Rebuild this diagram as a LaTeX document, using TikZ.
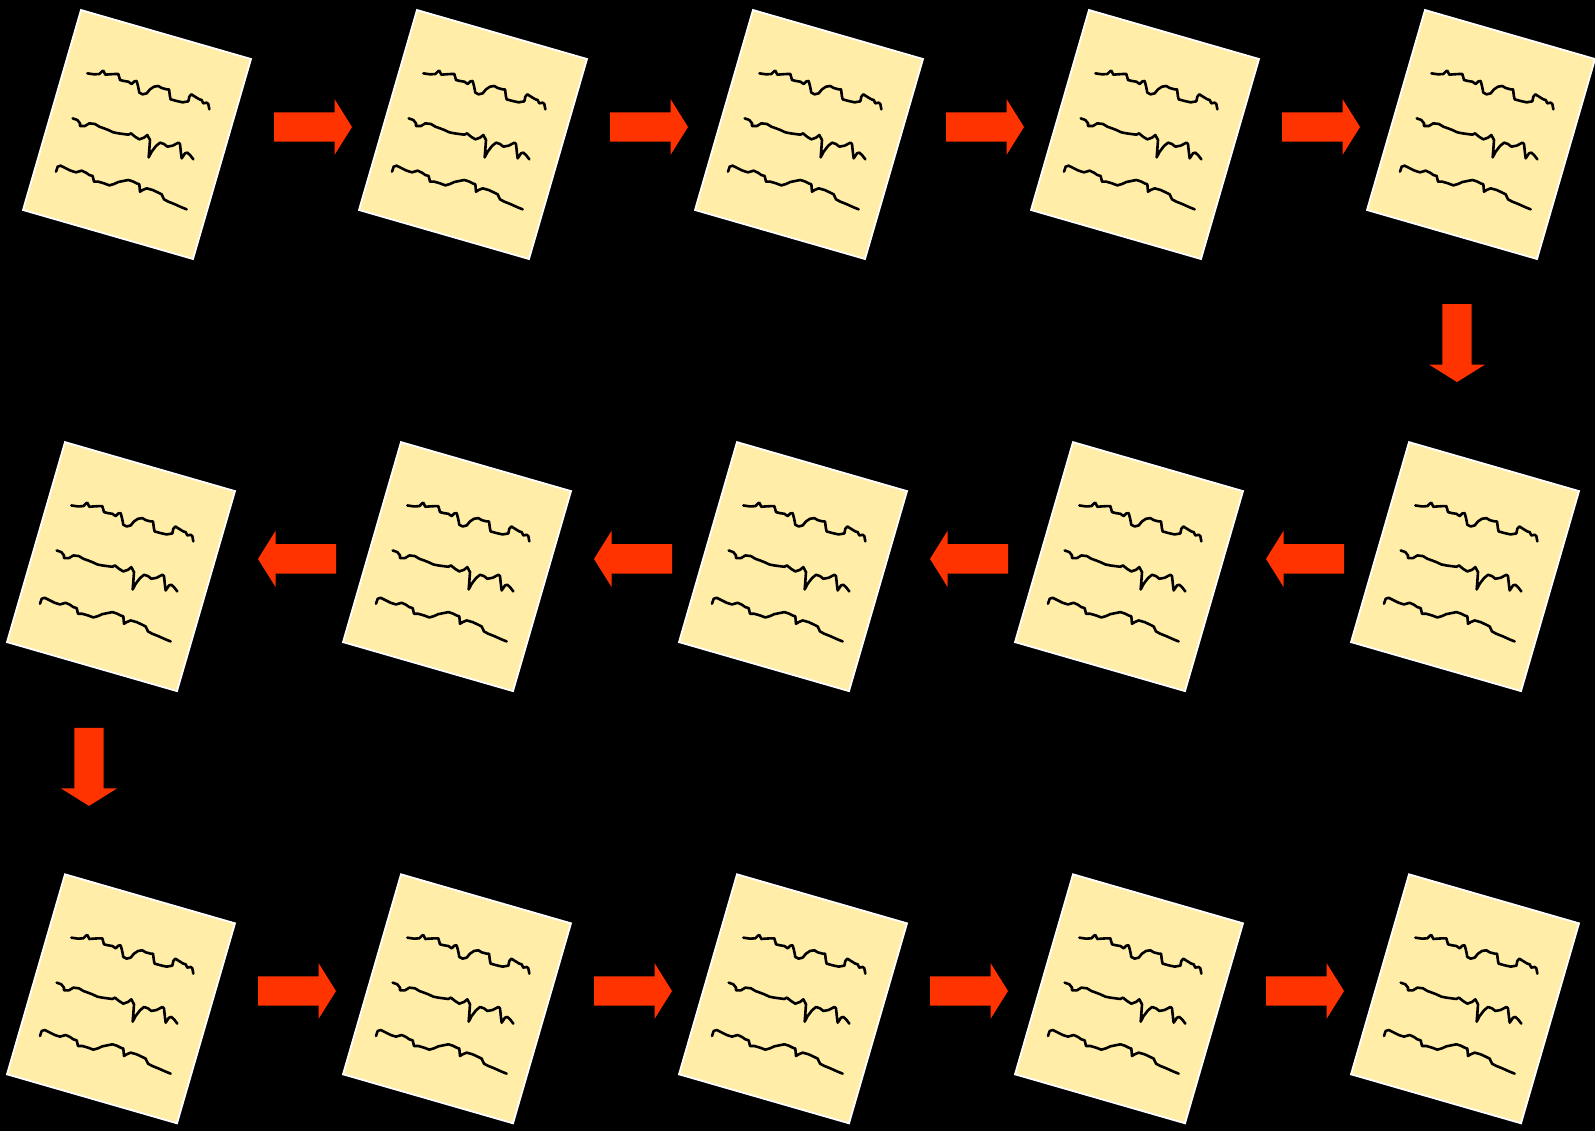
\documentclass[tikz,border=0pt]{standalone}
\usetikzlibrary{calc}
\definecolor{notefill}{HTML}{FFEDA8}
\definecolor{arrowred}{HTML}{FF3300}
\tikzset{
  scribble/.style={line width=1.3pt, line join=round, line cap=round, black},
  notepaper/.style={fill=notefill, draw=white, line width=0.9pt},
  blockarrow/.style={fill=arrowred},
  note/.pic={
    \path[notepaper] (-56,-124.5) -- (114,-75.5) -- (56,124.5) -- (-114,75.5) -- cycle;
    \begin{scope}[shift={(-137,-134.5)}, scale=1/3]
      \draw[scribble] (262,220) -- (282,223) -- (298,222) -- (306,214) -- (310,212) -- (316,224) -- (328,223) -- (345,222) -- (355,222) -- (360,240) -- (372,243) -- (385,245) -- (395,252) -- (403,244) -- (410,243) -- (414,258) -- (418,278) -- (428,283) -- (440,280) -- (450,268) -- (462,260) -- (475,258) -- (485,264) -- (500,268) -- (507,268) -- (510,290) -- (512,298) -- (530,303) -- (548,307) -- (565,304) -- (568,290) -- (574,283) -- (585,290) -- (598,298) -- (605,300) -- (610,310) -- (620,308) -- (625,312) -- (628,328);
      \draw[scribble] (218,355) -- (232,360) -- (240,370) -- (240,378) -- (255,378) -- (268,370) -- (285,372) -- (298,380) -- (312,385) -- (325,390) -- (340,397) -- (355,400) -- (370,402) -- (385,404) -- (393,400) -- (405,410) -- (418,418) -- (432,413) -- (442,405) -- (450,420) -- (448,448) -- (446,472) -- (455,455) -- (468,438) -- (480,428) -- (492,432) -- (502,440) -- (518,437) -- (535,428) -- (540,432) -- (543,460) -- (545,475) -- (555,460) -- (562,458) -- (570,465) -- (580,478);
      \draw[scribble] (168,515) -- (173,500) -- (182,497) -- (198,505) -- (212,512) -- (228,517) -- (245,512) -- (258,518) -- (268,525) -- (278,528) -- (282,545) -- (295,545) -- (312,550) -- (328,556) -- (342,552) -- (355,546) -- (370,543) -- (385,540) -- (398,544) -- (410,550) -- (418,553) -- (420,575) -- (428,570) -- (440,565) -- (458,570) -- (475,578) -- (485,583) -- (492,598) -- (505,605) -- (525,613) -- (545,622) -- (560,628);
    \end{scope}
  },
  flowarrow/.pic={
    \path[blockarrow] (-39,-14.7) -- (21.5,-14.7) -- (21.5,-28) -- (39,0) -- (21.5,28) -- (21.5,14.7) -- (-39,14.7) -- cycle;
  }
}
\begin{document}
\begin{tikzpicture}[x=0.5pt, y=-0.5pt]
  \fill[black] (0,0) rectangle (1595,1131);
  \useasboundingbox (0,0) rectangle (1595,1131);
  % note positions
  \coordinate (A1) at (137,134.5);
  \coordinate (A2) at (473,134.5);
  \coordinate (A3) at (809,134.5);
  \coordinate (A4) at (1145,134.5);
  \coordinate (A5) at (1481,134.5);
  \coordinate (B1) at (121,566.6);
  \coordinate (B2) at (457,566.6);
  \coordinate (B3) at (793,566.6);
  \coordinate (B4) at (1129,566.6);
  \coordinate (B5) at (1465,566.6);
  \coordinate (C1) at (121,998.8);
  \coordinate (C2) at (457,998.8);
  \coordinate (C3) at (793,998.8);
  \coordinate (C4) at (1129,998.8);
  \coordinate (C5) at (1465,998.8);
  \foreach \n in {A1,A2,A3,A4,A5,B1,B2,B3,B4,B5,C1,C2,C3,C4,C5}
    \pic at (\n) {note};
  % row 1 arrows (right)
  \foreach \a/\b in {A1/A2,A2/A3,A3/A4,A4/A5}
    \pic at ($(\a)!0.5!(\b)+(8,-7.5)$) {flowarrow};
  % down arrow 1
  \pic[rotate=-90] at ($(A5)!0.5!(B5)+(-16,-7.5)$) {flowarrow};
  % row 2 arrows (left)
  \foreach \a/\b in {B5/B4,B4/B3,B3/B2,B2/B1}
    \pic[rotate=180] at ($(\a)!0.5!(\b)+(8,-7.7)$) {flowarrow};
  % down arrow 2
  \pic[rotate=-90] at ($(B1)!0.5!(C1)+(-32,-15.8)$) {flowarrow};
  % row 3 arrows (right)
  \foreach \a/\b in {C1/C2,C2/C3,C3/C4,C4/C5}
    \pic at ($(\a)!0.5!(\b)+(8,-7.8)$) {flowarrow};
\end{tikzpicture}
\end{document}
